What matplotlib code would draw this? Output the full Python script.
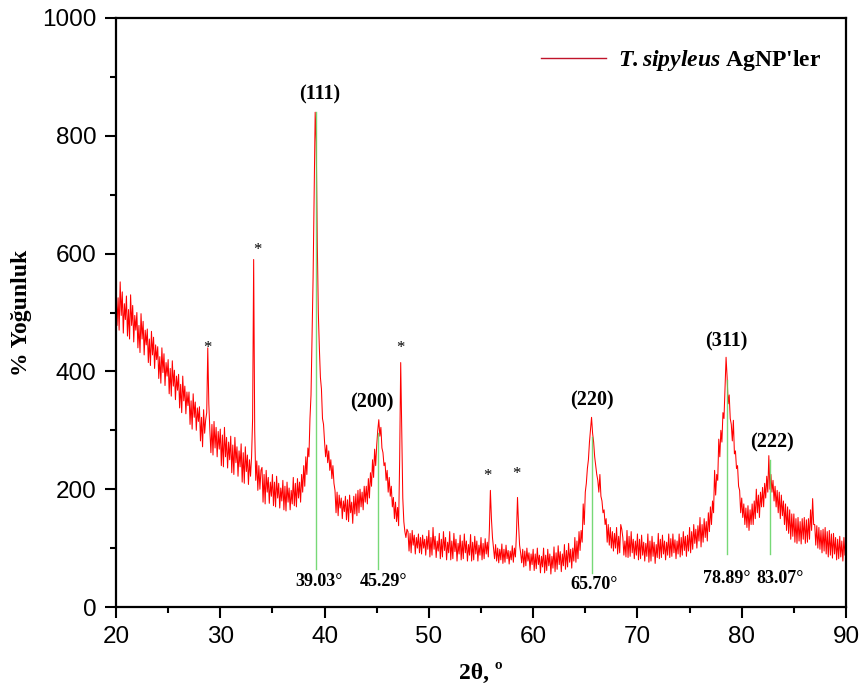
import numpy as np
import matplotlib
matplotlib.use("Agg")
import matplotlib.pyplot as plt
from matplotlib.ticker import MultipleLocator

plt.rcParams['mathtext.fontset'] = 'custom'
plt.rcParams['mathtext.rm'] = 'Liberation Serif:bold'
plt.rcParams['mathtext.bfit'] = 'Liberation Serif:bold:italic'
plt.rcParams['mathtext.it'] = 'Liberation Serif:bold:italic'

two_theta_start = 20.0
two_theta_step = 0.1
intensity = [
    540, 478, 525, 470, 552, 495, 535, 465, 515, 488,   # 20
    528, 460, 505, 455, 530, 478, 512, 450, 495, 470,   # 21
    500, 440, 478, 432, 498, 455, 485, 428, 470, 445,   # 22
    472, 415, 455, 410, 468, 428, 458, 405, 445, 420,   # 23
    442, 388, 425, 380, 440, 398, 430, 376, 415, 392,   # 24
    420, 362, 405, 358, 418, 375, 402, 352, 392, 368,   # 25
    395, 338, 378, 330, 392, 350, 375, 328, 365, 342,   # 26
    365, 310, 350, 302, 362, 322, 348, 300, 338, 315,   # 27
    340, 282, 322, 272, 335, 295, 318, 330, 440, 345,   # 28
    300, 262, 310, 258, 315, 270, 305, 255, 298, 268,   # 29
    302, 240, 292, 238, 305, 255, 288, 236, 280, 250,   # 30
    290, 228, 275, 225, 288, 245, 272, 222, 265, 238,   # 31
    277, 212, 262, 210, 272, 230, 258, 208, 250, 222,   # 32
    255, 320, 590, 300, 215, 248, 198, 240, 200, 232,   # 33
    237, 178, 225, 175, 232, 195, 220, 176, 212, 188,   # 34
    225, 172, 212, 170, 222, 185, 210, 168, 202, 180,   # 35
    215, 165, 205, 163, 212, 178, 202, 165, 198, 175,   # 36
    220, 172, 210, 170, 218, 185, 212, 178, 225, 195,   # 37
    240, 205, 255, 225, 270, 255, 320, 360, 460, 560,   # 38
    700, 840, 790, 620, 500, 440, 390, 370, 320, 310,   # 39
    280, 255, 275, 245, 265, 232, 250, 218, 240, 210,   # 40
    198, 160, 195, 155, 190, 168, 185, 150, 180, 162,   # 41
    188, 148, 182, 145, 190, 160, 178, 142, 188, 158,   # 42
    192, 155, 198, 160, 200, 170, 195, 165, 205, 178,   # 43
    205, 175, 218, 185, 228, 205, 250, 220, 268, 240,   # 44
    275, 300, 318, 290, 305, 270, 262, 240, 245, 215,   # 45
    232, 195, 220, 188, 205, 170, 186, 150, 178, 145,   # 46
    169, 138, 250, 415, 300, 185, 145, 128, 118, 132,   # 47
    128, 95, 125, 92, 130, 105, 122, 90, 118, 100,      # 48
    124, 92, 118, 90, 122, 100, 115, 88, 120, 98,       # 49
    130, 85, 118, 88, 135, 98, 120, 84, 112, 95,        # 50
    125, 82, 115, 85, 128, 96, 118, 80, 110, 92,        # 51
    128, 80, 112, 82, 125, 94, 115, 78, 108, 90,        # 52
    122, 80, 112, 82, 124, 92, 112, 78, 106, 88,        # 53
    123, 78, 110, 80, 120, 90, 112, 78, 105, 88,        # 54
    118, 80, 108, 82, 116, 90, 110, 85, 130, 198,       # 55
    150, 118, 100, 82, 106, 78, 100, 75, 98, 80,        # 56
    107, 74, 98, 76, 105, 82, 96, 73, 95, 80,           # 57
    104, 76, 100, 85, 125, 186, 140, 105, 92, 75,       # 58
    98, 68, 95, 70, 100, 78, 92, 62, 90, 72,            # 59
    98, 62, 90, 65, 100, 72, 88, 58, 86, 68,            # 60
    100, 58, 88, 62, 98, 70, 90, 56, 86, 66,            # 61
    102, 60, 92, 64, 104, 72, 94, 60, 90, 70,           # 62
    106, 64, 96, 68, 108, 76, 98, 66, 100, 78,          # 63
    118, 76, 112, 82, 128, 96, 130, 110, 175, 140,      # 64
    195, 210, 235, 250, 280, 300, 322, 295, 280, 255,   # 65
    240, 225, 215, 195, 225, 188, 180, 160, 165, 140,   # 66
    150, 110, 140, 105, 135, 100, 128, 95, 125, 100,    # 67
    135, 90, 120, 92, 140, 132, 118, 88, 112, 85,       # 68
    130, 84, 120, 86, 128, 92, 115, 82, 112, 88,        # 69
    124, 80, 115, 82, 122, 88, 110, 78, 108, 86,        # 70
    124, 76, 112, 78, 120, 86, 110, 74, 106, 84,        # 71
    125, 82, 115, 84, 122, 90, 112, 80, 110, 88,        # 72
    124, 84, 116, 86, 124, 92, 114, 82, 112, 90,        # 73
    124, 85, 118, 88, 128, 96, 120, 86, 122, 95,        # 74
    135, 92, 128, 98, 140, 108, 132, 100, 138, 112,     # 75
    152, 102, 140, 110, 150, 118, 145, 112, 160, 128,   # 76
    170, 140, 180, 160, 232, 190, 225, 215, 285, 255,   # 77
    300, 280, 330, 320, 370, 424, 390, 345, 360, 320,   # 78
    310, 282, 317, 260, 265, 235, 240, 205, 198, 160,   # 79
    185, 152, 175, 140, 168, 135, 172, 130, 165, 140,   # 80
    175, 140, 180, 150, 200, 160, 190, 152, 195, 170,   # 81
    203, 170, 210, 185, 222, 195, 257, 200, 225, 195,   # 82
    215, 180, 205, 170, 198, 160, 195, 150, 190, 155,   # 83
    180, 140, 175, 130, 170, 125, 165, 115, 158, 120,   # 84
    158, 110, 150, 108, 152, 112, 145, 107, 150, 115,   # 85
    152, 108, 148, 110, 150, 115, 165, 130, 184, 140,   # 86
    140, 105, 138, 100, 135, 98, 130, 92, 132, 95,      # 87
    135, 90, 128, 85, 130, 88, 124, 83, 125, 90,        # 88
    118, 80, 115, 82, 120, 85, 112, 78, 118, 88,        # 89
    100,                                                # 90
]
two_theta = two_theta_start + two_theta_step * np.arange(len(intensity))

# Ag reflections: marker lines (as drawn), value labels, Miller indices
peak_line_x = [39.15, 45.1, 65.65, 78.55, 82.75]
peak_line_top = [840, 295, 288, 385, 250]
peak_line_bottom = [65, 65, 58, 90, 90]
peak_value_labels = ["39.03°", "45.29°", "65.70°", "78.89°", "83.07°"]
peak_value_label_x = [39.45, 45.65, 65.8, 78.6, 83.65]
peak_value_label_y = [44, 44, 39, 48, 48]
hkl_labels = ["(111)", "(200)", "(220)", "(311)", "(222)"]
hkl_x = [39.55, 44.55, 65.6, 78.5, 82.9]
hkl_y = [870, 347, 351, 450, 279]

# impurity marks
star_x = [28.72, 33.6, 47.3, 55.6, 58.35]
star_y = [440, 606, 440, 223, 226]

fig = plt.figure(figsize=(8.62, 6.91), dpi=100)
ax = fig.add_axes([116/862, 1-607/691, (846-116)/862, (607-18)/691])

ax.plot(two_theta, intensity, color='#ff0000', lw=0.75,
        label=r"$\mathbfit{T.sipyleus}$ AgNP'ler")

for x, top, bot in zip(peak_line_x, peak_line_top, peak_line_bottom):
    ax.plot([x, x], [bot, top], color='#5fd35f', lw=1.0, alpha=0.85, zorder=3)

serif = 'Liberation Serif'
for x, lab, y in zip(peak_value_label_x, peak_value_labels, peak_value_label_y):
    ax.text(x, y, lab, ha='center', va='center', fontsize=13, fontweight='bold',
            family=serif)
for x, lab, y in zip(hkl_x, hkl_labels, hkl_y):
    ax.text(x, y, lab, ha='center', va='center', fontsize=14.5, fontweight='bold',
            family=serif)
for x, y in zip(star_x, star_y):
    ax.text(x, y, '*', ha='center', va='center', fontsize=12, family=serif)

ax.set_xlim(20, 90)
ax.set_ylim(0, 1000)
ax.xaxis.set_major_locator(MultipleLocator(10))
ax.xaxis.set_minor_locator(MultipleLocator(5))
ax.yaxis.set_major_locator(MultipleLocator(200))
ax.yaxis.set_minor_locator(MultipleLocator(100))
ax.tick_params(which='major', direction='out', length=8, width=1.5, labelsize=17.5,
               pad=6, top=False, right=False)
ax.tick_params(which='minor', direction='out', length=4, width=1.5,
               top=False, right=False)
for lab in ax.get_xticklabels() + ax.get_yticklabels():
    lab.set_family('Liberation Sans')
for s in ax.spines.values():
    s.set_linewidth(1.6)

ax.set_xlabel("2θ, º", fontsize=17, fontweight='bold', family=serif)
ax.set_ylabel("% Yoğunluk", fontsize=17, fontweight='bold', family=serif)
ax.xaxis.set_label_coords(0.5, -0.095)
ax.yaxis.set_label_coords(-0.115, 0.5)

leg = ax.legend(loc='upper right', frameon=False, handlelength=2.75, handletextpad=0.5,
                prop={'family': serif, 'weight': 'bold', 'size': 17},
                bbox_to_anchor=(0.995, 0.985))
leg.get_lines()[0].set_color('#c0142a')
leg.get_lines()[0].set_linewidth(1.0)

fig.savefig('out.png', dpi=100)
